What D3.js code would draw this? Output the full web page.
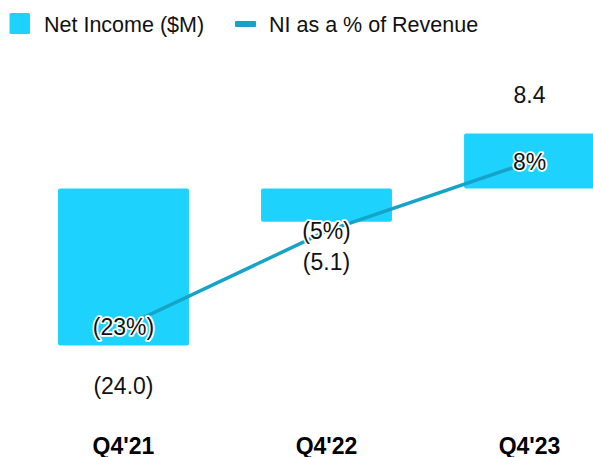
<!DOCTYPE html>
<html>
<head>
<meta charset="utf-8">
<script src="https://cdn.jsdelivr.net/npm/d3@7"></script>
<style>
  body { margin: 0; background: #fff; }
  svg text { font-family: "Liberation Sans", Arial, sans-serif; }
</style>
</head>
<body>
<div id="chart"></div>
<script>
const width = 593, height = 457;

// data
const quarters = ["Q4'21", "Q4'22", "Q4'23"];
const netIncome = [-24.0, -5.1, 8.4];
const niPct = [-23, -5, 8];
const incomeLabels = ["(24.0)", "(5.1)", "8.4"];
const pctLabels = ["(23%)", "(5%)", "8%"];

const barColor = "#1dd3fd";
const lineColor = "#17a3c8";

const svg = d3.select("#chart").append("svg")
  .attr("width", width)
  .attr("height", height);

const x = d3.scaleBand()
  .domain(quarters)
  .range([58, 595])
  .paddingInner(0.355)
  .paddingOuter(0);

// bar scale, zero sits at y=187
const y = d3.scaleLinear()
  .domain([-24, 8.4])
  .range([345.5, 133.5]);

// percent scale for the line
const yp = d3.scaleLinear()
  .domain([-23, 8])
  .range([327, 162]);

const cx = (i) => x(quarters[i]) + x.bandwidth() / 2;

// bars
svg.append("g")
  .selectAll("rect")
  .data(netIncome)
  .enter()
  .append("rect")
  .attr("x", (d, i) => x(quarters[i]))
  .attr("width", x.bandwidth())
  .attr("y", d => Math.min(y(d), y(0)))
  .attr("height", d => Math.abs(y(d) - y(0)))
  .attr("rx", 2)
  .style("fill", barColor);

// line
const line = d3.line()
  .x((d, i) => cx(i))
  .y(d => yp(d));

svg.append("path")
  .datum(niPct)
  .attr("d", line)
  .style("fill", "none")
  .style("stroke", lineColor)
  .style("stroke-width", 3.5);

// percent labels with white halo
svg.append("g")
  .selectAll("text")
  .data(niPct)
  .enter()
  .append("text")
  .attr("x", (d, i) => cx(i))
  .attr("y", d => yp(d))
  .attr("dy", "0.35em")
  .attr("text-anchor", "middle")
  .style("font-size", "23px")
  .style("fill", "#111")
  .style("stroke", "#fff")
  .style("stroke-width", 3.5)
  .style("stroke-linejoin", "round")
  .style("paint-order", "stroke")
  .text((d, i) => pctLabels[i]);

// value labels
svg.append("g")
  .selectAll("text")
  .data(netIncome)
  .enter()
  .append("text")
  .attr("x", (d, i) => cx(i))
  .attr("y", d => d < 0 ? y(d) + 40 : y(d) - 39)
  .attr("dy", "0.35em")
  .attr("text-anchor", "middle")
  .style("font-size", "23px")
  .style("fill", "#111")
  .text((d, i) => incomeLabels[i]);

// category labels
svg.append("g")
  .selectAll("text")
  .data(quarters)
  .enter()
  .append("text")
  .attr("x", d => x(d) + x.bandwidth() / 2)
  .attr("y", 453.5)
  .attr("text-anchor", "middle")
  .style("font-weight", "bold")
  .style("font-size", "23px")
  .style("fill", "#000")
  .text(d => d);

// legend
const legend = svg.append("g");
legend.append("rect")
  .attr("x", 9.5).attr("y", 13)
  .attr("width", 20.5).attr("height", 21)
  .attr("rx", 1.5)
  .style("fill", barColor);
legend.append("text")
  .attr("x", 44).attr("y", 32)
  .style("font-size", "21.5px")
  .style("fill", "#111")
  .text("Net Income ($M)");
legend.append("rect")
  .attr("x", 235).attr("y", 21)
  .attr("width", 21).attr("height", 6)
  .attr("rx", 1)
  .style("fill", lineColor);
legend.append("text")
  .attr("x", 269).attr("y", 32)
  .style("font-size", "21.5px")
  .style("fill", "#111")
  .text("NI as a % of Revenue");
</script>
</body>
</html>
